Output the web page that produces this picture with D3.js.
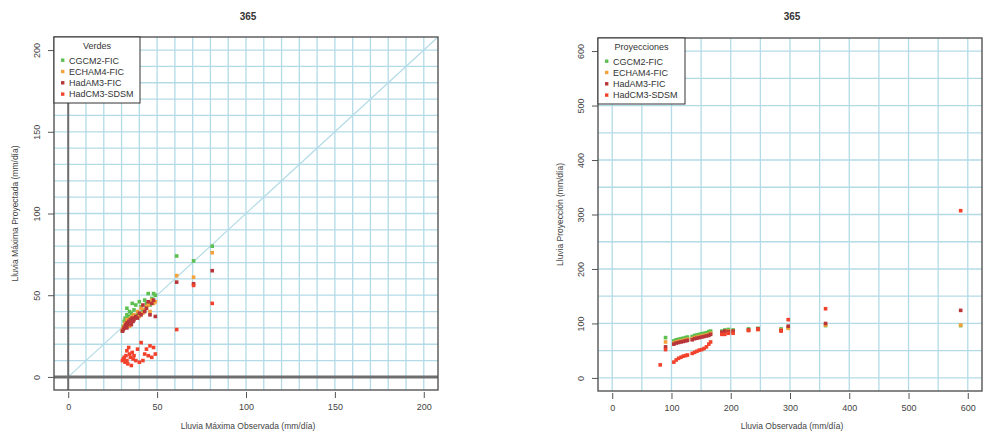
<!DOCTYPE html>
<html>
<head>
<meta charset="utf-8">
<script src="https://cdn.jsdelivr.net/npm/d3@7"></script>
<style>
  body { margin: 0; background: #fff; }
  svg { display: block; font-family: "Liberation Sans", Arial, sans-serif; }
  .tick line { stroke: #555; }
  .tick text { fill: #444; font-size: 9px; }
</style>
</head>
<body>
<svg width="991" height="436"></svg>
<script>
// series names and colours (shared by both panels)
var models = ["CGCM2-FIC", "ECHAM4-FIC", "HadAM3-FIC", "HadCM3-SDSM"];
var modelColors = ["#5cbf4f", "#f5a13c", "#b8353a", "#f2422c"];

// left panel: validation, observed vs projected maximum rain (mm/dia)
var obsVal   = [30.5, 31, 31.5, 32, 32.5, 33, 33, 33.5, 34, 34.5, 35, 35.5, 36, 36.5, 37, 38, 39, 40, 41, 42, 43, 44, 45, 46, 47, 48, 49, 61, 70.5, 81];
var cgcmVal  = [28, 31, 34, 36, 33, 38, 42, 35, 37, 40, 36, 39, 45, 37, 41, 44, 38, 46, 43, 40, 47, 45, 51, 44, 48, 51, 50, 74, 71, 80];
var echamVal = [29, 30, 31, 33, 32, 33, 35, 34, 35, 31, 36, 33, 37, 36, 38, 36, 40, 37, 42, 39, 41, 43, 44, 40, 47, 45, 46, 62, 61, 76];
var hadamVal = [28, 29, 30, 31, 32, 30, 33, 32, 34, 33, 35, 32, 36, 34, 35, 37, 36, 39, 38, 44, 40, 42, 46, 38, 45, 47, 37, 58, 57, 65];
var sdsmVal  = [10, 11, 12, 9, 13, 16, 10, 8, 18, 14, 12, 7, 15, 11, 13, 10, 17, 9, 21, 10, 14, 17, 13, 19, 12, 18, 14, 29, 56, 45];

// right panel: projections
var obsProj   = [81, 90, 104, 108, 112, 116, 120, 124, 127, 135, 139, 143, 147, 151, 155, 159, 163, 166, 185, 190, 196, 204, 230, 246, 285, 297, 360, 588];
var cgcmProj  = [null, 74, 68, 70, 71, 72, 73, 74, 75, 76, 78, 79, 80, 81, 82, 83, 85, 86, 86, 88, 89, 88, 90, 91, 90, 93, 96, 96];
var echamProj = [null, 66, 64, 66, 67, 68, 69, 70, 71, 72, 74, 75, 76, 77, 78, 79, 80, 82, 83, 85, 86, 86, 88, 89, 88, 91, 97, 97];
var hadamProj = [null, 57, 62, 64, 65, 66, 67, 68, 69, 70, 72, 73, 74, 75, 76, 77, 78, 80, 84, 86, 85, 86, 88, 90, 87, 95, 100, 124];
var sdsmProj  = [24, 52, 29, 33, 36, 38, 40, 41, 42, 45, 47, 49, 51, 52, 54, 57, 62, 66, 80, 80, 82, 82, 87, 89, 86, 107, 127, 307];

var svg = d3.select("svg");
var gridColor = "#b3dbe7";

function drawPanel(p) {
    var g = svg.append("g");
    var x = d3.scaleLinear().domain(p.xDomain).range([p.left, p.right]);
    var y = d3.scaleLinear().domain(p.yDomain).range([p.bottom, p.top]);

    // grid
    g.append("g").selectAll("line").data(p.gridVals).enter().append("line")
        .attr("x1", function(d) { return x(d); }).attr("x2", function(d) { return x(d); })
        .attr("y1", p.top).attr("y2", p.bottom)
        .attr("stroke", gridColor).attr("stroke-width", 1.3);
    g.append("g").selectAll("line").data(p.gridVals).enter().append("line")
        .attr("y1", function(d) { return y(d); }).attr("y2", function(d) { return y(d); })
        .attr("x1", p.left).attr("x2", p.right)
        .attr("stroke", gridColor).attr("stroke-width", 1.3);

    if (p.refLines) {
        // 1:1 line
        g.append("line")
            .attr("x1", x(0)).attr("y1", y(0))
            .attr("x2", x(p.xDomain[1])).attr("y2", y(p.xDomain[1]))
            .attr("stroke", gridColor).attr("stroke-width", 1.2);
        g.append("line")
            .attr("x1", x(0)).attr("x2", x(0)).attr("y1", p.top).attr("y2", p.bottom)
            .attr("stroke", "#6e6e6e").attr("stroke-width", 2);
        g.append("line")
            .attr("y1", y(0)).attr("y2", y(0)).attr("x1", p.left).attr("x2", p.right)
            .attr("stroke", "#6e6e6e").attr("stroke-width", 3);
    }

    // points, one group per model
    p.series.forEach(function(vals, i) {
        var pts = p.obs.map(function(o, j) { return {x: o, y: vals[j]}; })
            .filter(function(d) { return d.y !== null; });
        g.append("g").selectAll("rect").data(pts).enter().append("rect")
            .attr("x", function(d) { return x(d.x) - 1.8; })
            .attr("y", function(d) { return y(d.y) - 1.8; })
            .attr("width", 3.6).attr("height", 3.6)
            .attr("fill", modelColors[i]);
    });

    // axes
    var xAxis = g.append("g")
        .attr("transform", "translate(0," + p.bottom + ")")
        .call(d3.axisBottom(x).tickValues(p.ticks).tickSize(6).tickPadding(8));
    xAxis.select(".domain").remove();
    xAxis.selectAll("line").attr("y1", 2).attr("y2", 8);

    var yAxis = g.append("g")
        .attr("transform", "translate(" + p.left + ",0)")
        .call(d3.axisLeft(y).tickValues(p.ticks).tickSize(6));
    yAxis.select(".domain").remove();
    yAxis.selectAll("text")
        .attr("transform", "rotate(-90)")
        .attr("x", 0).attr("y", -14).attr("dy", 0)
        .attr("text-anchor", "middle");

    // box
    g.append("rect")
        .attr("x", p.left).attr("y", p.top)
        .attr("width", p.right - p.left).attr("height", p.bottom - p.top)
        .attr("fill", "none").attr("stroke", "#555").attr("stroke-width", 1.4);

    // titles
    g.append("text")
        .attr("x", (p.left + p.right) / 2 + 2).attr("y", 20)
        .attr("text-anchor", "middle").attr("font-size", 10).attr("font-weight", "bold")
        .attr("fill", "#333").text(p.title);
    g.append("text")
        .attr("x", (p.left + p.right) / 2 + 2).attr("y", 429)
        .attr("text-anchor", "middle").attr("font-size", 8.5)
        .attr("fill", "#444").text(p.xLabel);
    g.append("text")
        .attr("transform", "translate(" + p.yLabelX + "," + (p.top + p.bottom) / 2 + ") rotate(-90)")
        .attr("text-anchor", "middle").attr("font-size", 8.5)
        .attr("fill", "#444").text(p.yLabel);

    // legend
    var lg = g.append("g").attr("transform", "translate(" + p.left + "," + p.top + ")");
    lg.append("rect")
        .attr("width", p.legendW).attr("height", 66)
        .attr("fill", "#fff").attr("stroke", "#333").attr("stroke-width", 1);
    lg.append("text")
        .attr("x", p.legendW / 2).attr("y", 12)
        .attr("text-anchor", "middle").attr("font-size", 9)
        .attr("fill", "#333").text(p.legendTitle);
    models.forEach(function(m, i) {
        lg.append("rect")
            .attr("x", 7).attr("y", 21.5 + i * 11.3)
            .attr("width", 3.4).attr("height", 3.4)
            .attr("fill", modelColors[i]);
        lg.append("text")
            .attr("x", 15).attr("y", 26.5 + i * 11.3)
            .attr("font-size", 9).attr("fill", "#333").text(m);
    });
}

drawPanel({
    left: 54, right: 438, top: 37, bottom: 390,
    xDomain: [-8, 208], yDomain: [-8, 208],
    ticks: [0, 50, 100, 150, 200],
    gridVals: d3.range(0, 201, 10),
    refLines: true,
    obs: obsVal,
    series: [cgcmVal, echamVal, hadamVal, sdsmVal],
    title: "365",
    xLabel: "Lluvia Máxima Observada (mm/día)",
    yLabel: "Lluvia Máxima Proyectada (mm/día)",
    yLabelX: 18,
    legendTitle: "Verdes",
    legendW: 86
});

drawPanel({
    left: 598, right: 982, top: 38, bottom: 391,
    xDomain: [-24, 624], yDomain: [-24, 624],
    ticks: [0, 100, 200, 300, 400, 500, 600],
    gridVals: d3.range(0, 601, 50),
    refLines: false,
    obs: obsProj,
    series: [cgcmProj, echamProj, hadamProj, sdsmProj],
    title: "365",
    xLabel: "Lluvia Observada (mm/día)",
    yLabel: "Lluvia Proyección (mm/día)",
    yLabelX: 563,
    legendTitle: "Proyecciones",
    legendW: 87
});
</script>
</body>
</html>
